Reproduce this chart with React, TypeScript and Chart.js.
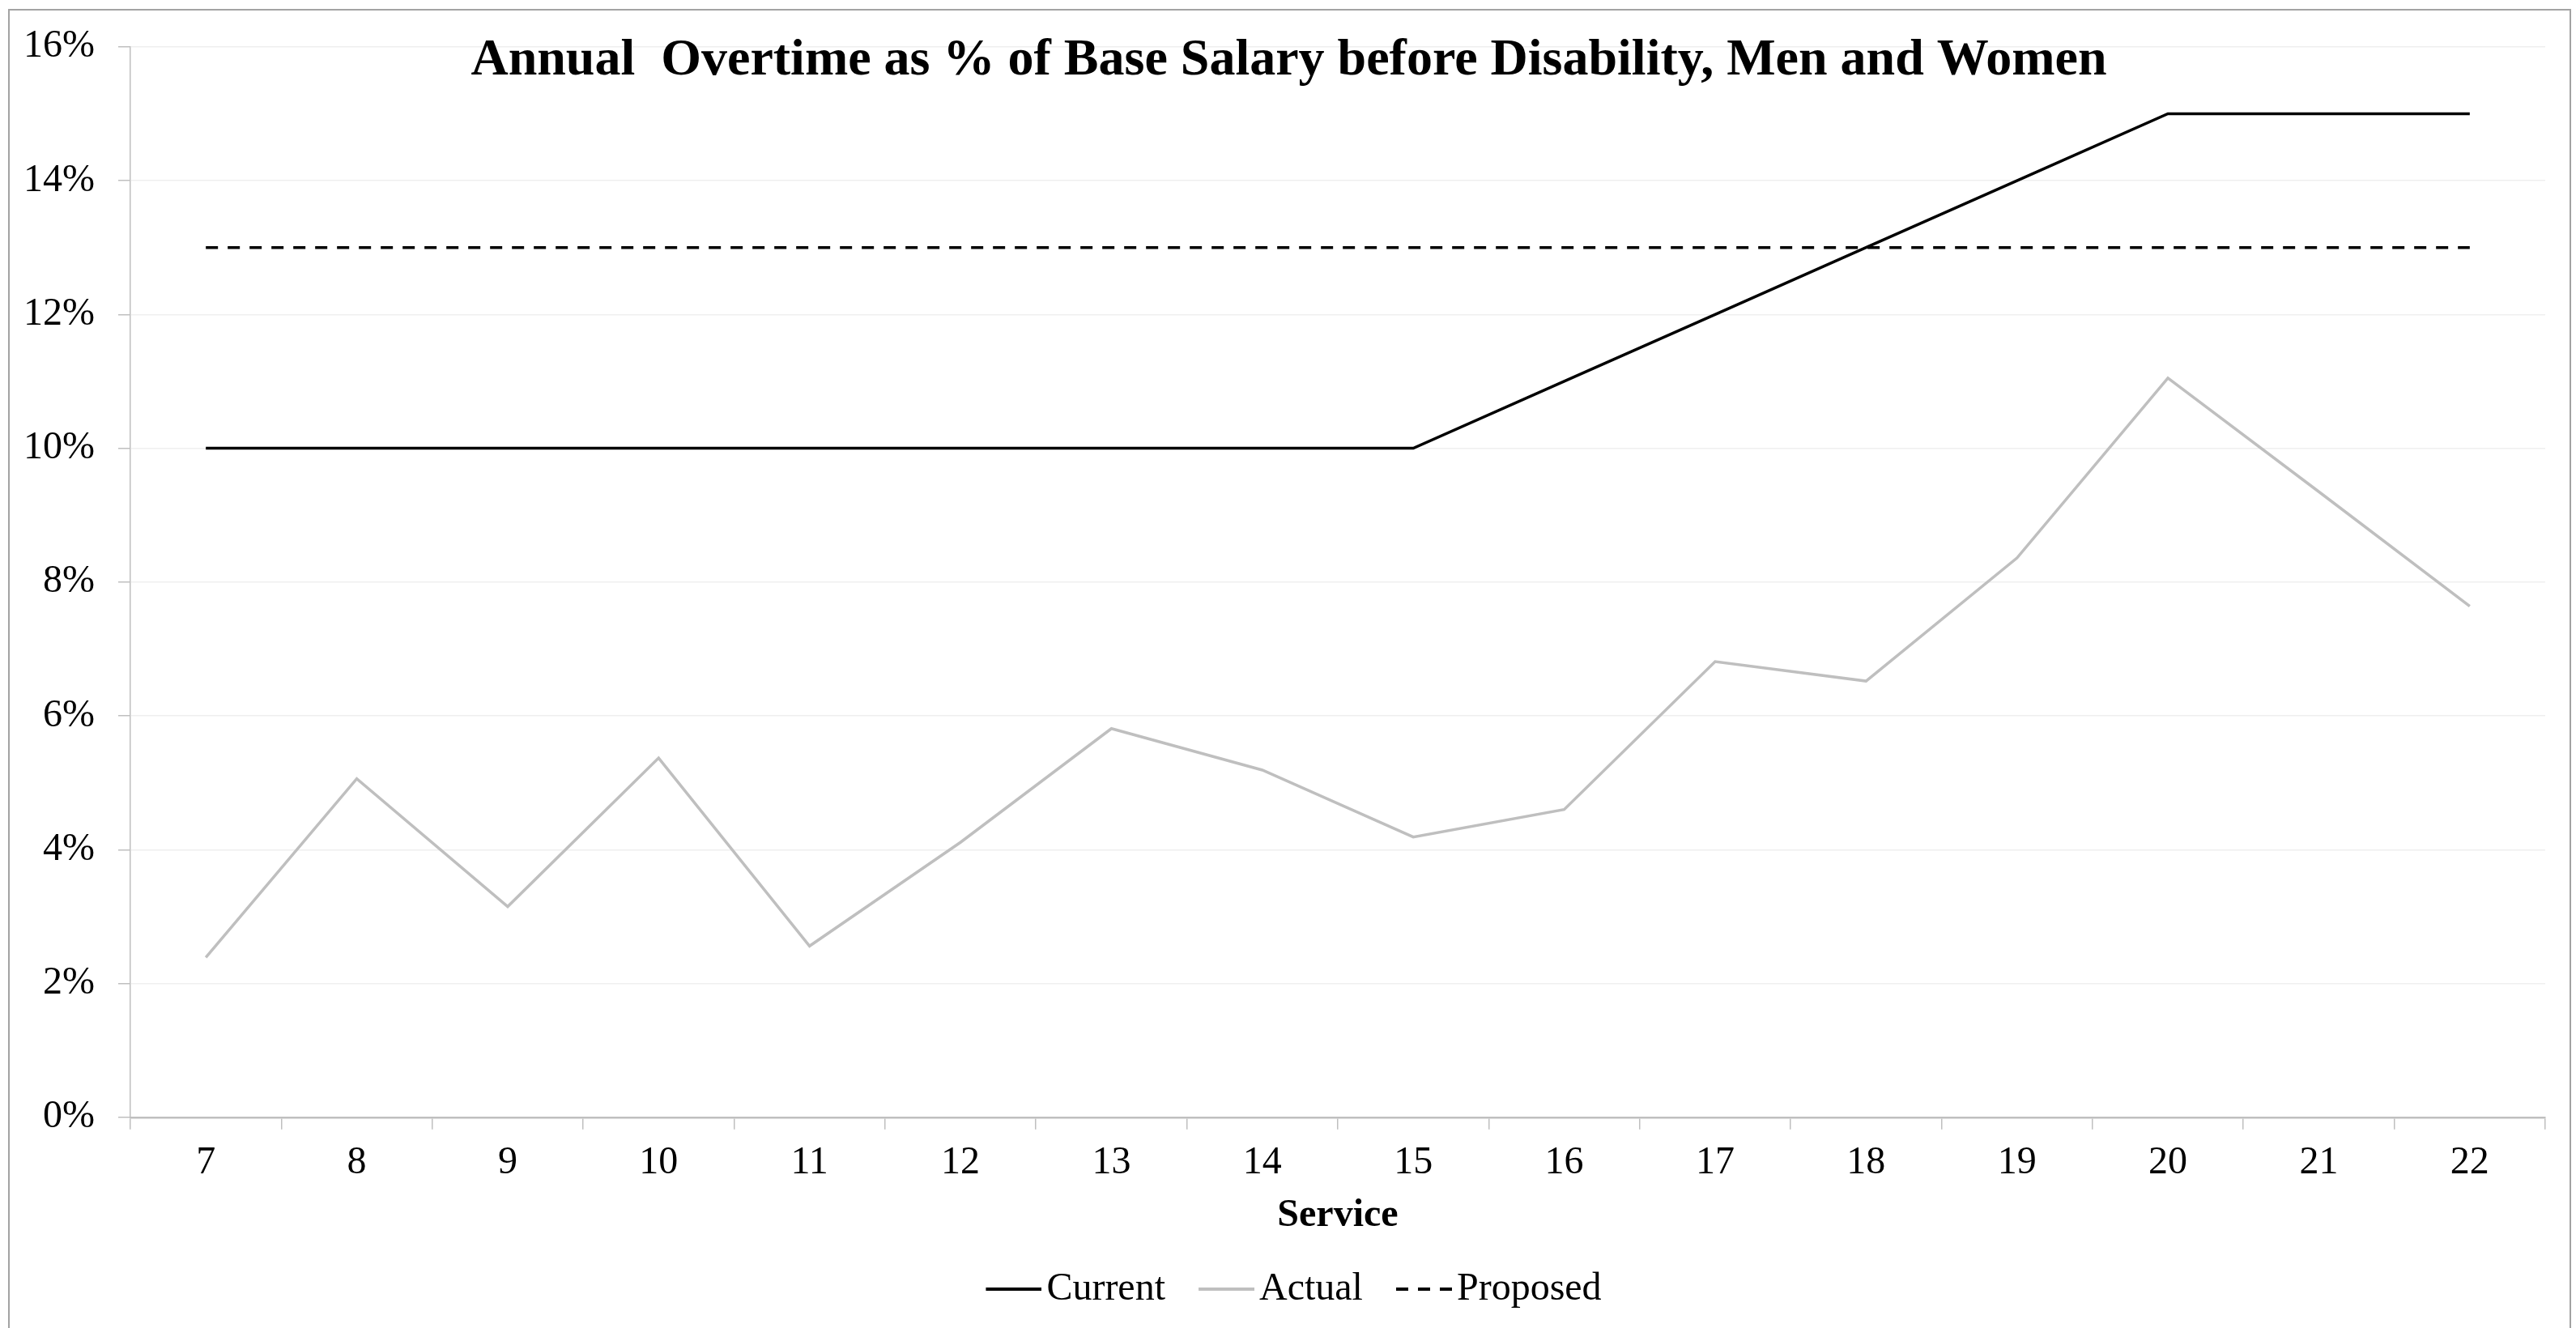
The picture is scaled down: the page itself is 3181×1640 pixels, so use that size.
import React, { useEffect, useRef } from "react";
import { Chart, registerables } from "chart.js";

Chart.register(...registerables);

const serviceYears = ["7", "8", "9", "10", "11", "12", "13", "14", "15", "16", "17", "18", "19", "20", "21", "22"];
const currentPct = [10, 10, 10, 10, 10, 10, 10, 10, 10, 11, 12, 13, 14, 15, 15, 15];
const actualPct = [2.39, 5.06, 3.15, 5.37, 2.56, 4.11, 5.81, 5.19, 4.19, 4.6, 6.81, 6.52, 8.36, 11.05, 9.35, 7.64];
const proposedPct = [13, 13, 13, 13, 13, 13, 13, 13, 13, 13, 13, 13, 13, 13, 13, 13];
const seriesNames = ["Current", "Actual", "Proposed"];
const chartTitle = "Annual  Overtime as % of Base Salary before Disability, Men and Women";
const xAxisTitle = "Service";

const W = 3181;
const H = 1640;
const FONT = '"Liberation Serif", "Times New Roman", Times, serif';

// legend sample geometry
const LEG_BOX = 51; // layout width of the sample box
const LEG_LINE = 69; // drawn length of the sample line

function makeLegendSample(color: string, width: number, dash: number[]) {
  const half = LEG_BOX / 2;
  const imgW = Math.round(2 * (LEG_LINE - half));
  const c = document.createElement("canvas");
  c.width = imgW;
  c.height = 12;
  const g = c.getContext("2d") as CanvasRenderingContext2D;
  g.strokeStyle = color;
  g.lineWidth = width;
  g.setLineDash(dash);
  g.beginPath();
  g.moveTo(imgW - LEG_LINE, 6);
  g.lineTo(imgW, 6);
  g.stroke();
  return c;
}

const framePlugin = {
  id: "frameAndTitle",
  beforeDraw(chart: any) {
    const ctx = chart.ctx;
    ctx.save();
    ctx.fillStyle = "#ffffff";
    ctx.fillRect(0, 0, chart.width, chart.height);
    ctx.strokeStyle = "#a3a3a3";
    ctx.lineWidth = 2;
    ctx.strokeRect(11, 12, 3163, 1700);
    ctx.restore();
  },
  afterLayout(chart: any) {
    if (chart.legend) {
      chart.legend.left += 26;
      chart.legend.right += 26;
    }
  },
  afterDraw(chart: any) {
    const ctx = chart.ctx;
    ctx.save();
    ctx.fillStyle = "#000000";
    ctx.font = `bold 64px ${FONT}`;
    ctx.textAlign = "center";
    ctx.textBaseline = "alphabetic";
    ctx.fillText(chartTitle, chart.width / 2 + 1, 92);
    ctx.restore();
  },
};

export default function App() {
  const canvasRef = useRef<HTMLCanvasElement | null>(null);

  useEffect(() => {
    const canvas = canvasRef.current;
    if (!canvas) return;
    const chart = new Chart(canvas, {
      type: "line",
      data: {
        labels: serviceYears,
        datasets: [
          {
            label: seriesNames[0],
            data: currentPct,
            borderColor: "#000000",
            backgroundColor: "#000000",
            borderWidth: 3.5,
            pointRadius: 0,
            tension: 0,
          },
          {
            label: seriesNames[1],
            data: actualPct,
            borderColor: "#bfbfbf",
            backgroundColor: "#bfbfbf",
            borderWidth: 3.5,
            pointRadius: 0,
            tension: 0,
          },
          {
            label: seriesNames[2],
            data: proposedPct,
            borderColor: "#000000",
            backgroundColor: "#000000",
            borderWidth: 3.5,
            borderDash: [15, 12],
            pointRadius: 0,
            tension: 0,
          },
        ],
      },
      options: {
        responsive: false,
        devicePixelRatio: 1,
        animation: false,
        layout: { padding: { left: 0, right: 38, top: 52, bottom: 14 } },
        plugins: {
          title: { display: false },
          tooltip: { enabled: false },
          legend: {
            display: true,
            position: "bottom",
            labels: {
              usePointStyle: true,
              pointStyleWidth: LEG_BOX,
              boxHeight: 48,
              padding: 41,
              color: "#000000",
              font: { family: FONT, size: 48 },
              generateLabels: (ch: any) =>
                ch.data.datasets.map((ds: any, i: number) => ({
                  text: ds.label,
                  datasetIndex: i,
                  fillStyle: ds.borderColor,
                  strokeStyle: ds.borderColor,
                  fontColor: "#000000",
                  lineWidth: ds.borderWidth,
                  lineDash: ds.borderDash || [],
                  lineCap: "butt",
                  pointStyle: makeLegendSample(ds.borderColor, 4, ds.borderDash || []),
                  hidden: !ch.isDatasetVisible(i),
                })),
            },
          },
        },
        scales: {
          x: {
            offset: true,
            grid: {
              offset: true,
              drawOnChartArea: false,
              drawTicks: true,
              tickLength: 15,
              tickColor: "#bfbfbf",
              lineWidth: 1.5,
            },
            border: { display: true, color: "#bfbfbf", width: 2.5 },
            ticks: {
              autoSkip: false,
              maxRotation: 0,
              padding: 13,
              color: "#000000",
              font: { family: FONT, size: 48 },
            },
            title: {
              display: true,
              text: xAxisTitle,
              color: "#000000",
              padding: { top: -6, bottom: -3 },
              font: { family: FONT, size: 48, weight: "bold" },
            },
          },
          y: {
            min: 0,
            max: 16,
            grid: {
              color: "#efefef",
              lineWidth: 1.5,
              tickLength: 15,
              tickColor: "#bfbfbf",
            },
            border: { display: true, color: "#bfbfbf", width: 1.5 },
            ticks: {
              stepSize: 2,
              padding: 29,
              color: "#000000",
              font: { family: FONT, size: 48 },
              callback: (v: any) => `${v}%`,
            },
          },
        },
      },
      plugins: [framePlugin],
    });
    return () => chart.destroy();
  }, []);

  return (
    <div style={{ position: "fixed", left: 0, top: 0, width: W, height: H, overflow: "hidden", background: "#fff" }}>
      <canvas ref={canvasRef} width={W} height={H} style={{ display: "block" }} />
    </div>
  );
}
